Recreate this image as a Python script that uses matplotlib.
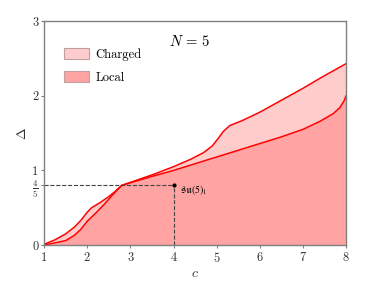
# plot.py
# N=5 时 Charged / Local 两条界限的填充图

import matplotlib
matplotlib.use('Agg')
import matplotlib.pyplot as plt
from matplotlib.patches import Patch

plt.rcParams['font.family'] = 'serif'
plt.rcParams['font.serif'] = ['cmr10', 'DejaVu Serif']
plt.rcParams['mathtext.fontset'] = 'cm'
plt.rcParams['axes.formatter.use_mathtext'] = True

# -----------------数据
c_charged = [1.0, 1.25, 1.5, 1.7, 1.85, 2.0, 2.1, 2.3, 2.5, 2.65, 2.8, 3.0, 3.5,
             4.0, 4.4, 4.7, 4.9, 5.05, 5.15, 5.3, 5.6, 6.0, 6.5, 7.0, 7.5, 8.0]
delta_charged = [0.01, 0.07, 0.15, 0.24, 0.33, 0.44, 0.50, 0.57, 0.65, 0.72, 0.80, 0.84, 0.94,
                 1.05, 1.15, 1.24, 1.33, 1.44, 1.52, 1.60, 1.67, 1.78, 1.94, 2.10, 2.27, 2.43]

c_local = [1.0, 1.25, 1.5, 1.7, 1.85, 2.0, 2.2, 2.4, 2.6, 2.8, 3.0, 3.5, 4.0, 4.5,
           5.0, 5.5, 6.0, 6.5, 7.0, 7.4, 7.7, 7.85, 7.95, 8.0]
delta_local = [0.0, 0.03, 0.06, 0.13, 0.21, 0.32, 0.43, 0.55, 0.68, 0.80, 0.835, 0.92, 1.0, 1.09,
               1.18, 1.27, 1.36, 1.45, 1.55, 1.66, 1.76, 1.84, 1.93, 2.0]

point_c = 4
point_delta = 0.8
point_label = r'$\mathfrak{su}(5)_1$'

x_ticks = [1, 2, 3, 4, 5, 6, 7, 8]
y_ticks = [0, 0.8, 1, 2, 3]
y_ticklabels = ['0', r'$\frac{4}{5}$', '1', '2', '3']

CHARGED_COLOR = '#ffcccc'
LOCAL_COLOR = '#ffa3a3'
EDGE_GRAY = '#808080'

# -----------------绘图
fig = plt.figure(figsize=(3.8, 2.85), dpi=100)
ax = fig.add_axes([0.116, 0.140, 0.795, 0.786])

ax.fill_between(c_charged, 0, delta_charged, color=CHARGED_COLOR, lw=0)
ax.fill_between(c_local, 0, delta_local, color=LOCAL_COLOR, lw=0)
ax.plot(c_charged, delta_charged, color='red', lw=1.1)
ax.plot(c_local, delta_local, color='red', lw=1.1)

# su(5)_1 参考点
ax.plot([1, point_c], [point_delta, point_delta], ls='--', color='#444444', lw=0.8)
ax.plot([point_c, point_c], [0, point_delta], ls='--', color='#444444', lw=0.8)
ax.plot(point_c, point_delta, 'o', color='black', ms=2)
ax.text(point_c + 0.16, point_delta - 0.06, point_label, fontsize=7, va='center', ha='left',
        math_fontfamily='stix')

ax.text(0.48, 0.91, r'$N\,=\,5$', transform=ax.transAxes, fontsize=10.5,
        ha='center', va='center')

ax.set_xlim(1, 8)
ax.set_ylim(0, 3)
ax.set_xticks(x_ticks)
ax.set_yticks(y_ticks)
ax.set_yticklabels(y_ticklabels)
ax.set_xlabel(r'$c$', fontsize=10, color='#333333', labelpad=2)
ax.set_ylabel(r'$\Delta$', fontsize=10, color='#333333', labelpad=2)
ax.tick_params(direction='out', length=2.5, width=0.8, color=EDGE_GRAY,
               labelsize=9, labelcolor='#333333', pad=1.5)
for s in ax.spines.values():
    s.set_color(EDGE_GRAY)
    s.set_linewidth(1.0)

legs = [Patch(facecolor=CHARGED_COLOR, edgecolor='#c0a0a0', lw=0.8),
        Patch(facecolor=LOCAL_COLOR, edgecolor='#c0a0a0', lw=0.8)]
ax.legend(legs, ['Charged', 'Local'], loc='upper left', bbox_to_anchor=(0.03, 0.93),
          frameon=False, fontsize=9, handlelength=2.0, handleheight=1.0,
          labelspacing=0.8, handletextpad=0.5)

fig.savefig('out.png', dpi=100)
